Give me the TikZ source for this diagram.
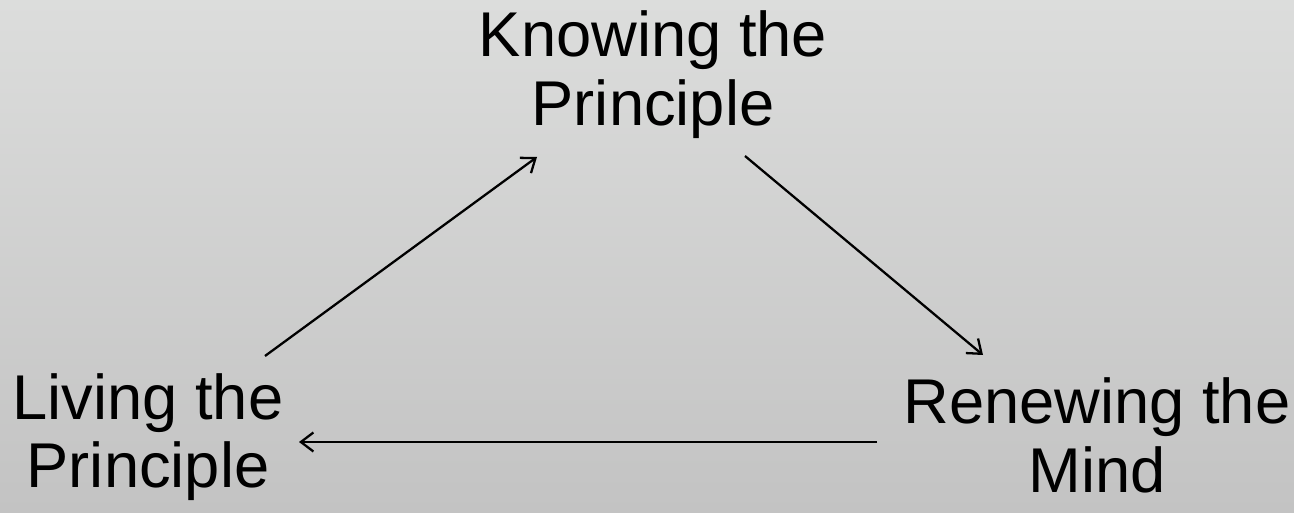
\documentclass[tikz,border=0pt]{standalone}
\usepackage{fontspec}
\setmainfont{Liberation Sans}
\usepackage{tikz}
\usetikzlibrary{arrows.meta,positioning}
\definecolor{tlogora}{HTML}{DCDDDC}
\definecolor{tlodol}{HTML}{C3C3C3}
\tikzset{
  napis/.style    = {inner sep=0pt, align=center, font=\fontsize{36}{39}\selectfont},
  strzalka/.style = {-{Straight Barb[length=2.5mm,width=3.8mm]}, line width=1.3pt, draw=black},
}

\begin{document}
\begin{tikzpicture}
      \shade[top color=tlogora, bottom color=tlodol] (0,0) rectangle (25.88,10.24);
      \useasboundingbox (0,0) rectangle (25.88,10.24);

      \node[napis] (wiedza) at (13.06,8.75) {Knowing the\\Principle};
      \node[napis] (zycie) at (2.96,1.50) {Living the\\Principle};
      \node[napis] (umysl) at (21.94,1.53) {Renewing the\\Mind};

      \draw[strzalka] ([xshift=2.34cm,yshift=1.62cm]zycie.center) -- ([xshift=-2.32cm,yshift=-1.65cm]wiedza.center);
      \draw[strzalka] ([xshift=1.84cm,yshift=-1.63cm]wiedza.center) -- ([xshift=-2.28cm,yshift=1.61cm]umysl.center);
      \draw[strzalka] ([xshift=-4.40cm,yshift=-0.13cm]umysl.center) -- ([xshift=3.02cm,yshift=-0.10cm]zycie.center);
    \end{tikzpicture}
\end{document}
